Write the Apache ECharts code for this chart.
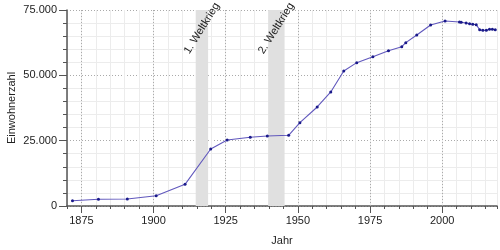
<!DOCTYPE html>
<html>
<head>
<meta charset="utf-8">
<script src="https://cdn.jsdelivr.net/npm/echarts@6/dist/echarts.min.js"></script>
<style>html,body{margin:0;padding:0;background:#fff}#c{width:500px;height:250px}</style>
</head>
<body>
<div id="c"></div>
<script>
// Census dates (decimal years) and population
const years = [1871.9, 1880.9, 1890.9, 1900.9, 1910.9, 1919.8, 1925.5, 1933.5, 1939.4, 1946.8,
  1950.7, 1956.7, 1961.4, 1965.9, 1970.4, 1976.0, 1981.4, 1986.0, 1987.4, 1991.2, 1996.0,
  2001.0, 2006.0, 2006.6, 2008.3, 2009.5, 2010.6, 2011.8, 2013.0, 2014.1, 2015.3, 2016.4, 2017.4, 2018.4];
const population = [2000, 2560, 2680, 3940, 8300, 21800, 25260, 26290, 26800, 27050,
  31900, 37890, 43630, 51660, 54850, 57140, 59440, 60970, 62500, 65440, 69270,
  70790, 70400, 70300, 70030, 69760, 69530, 69380, 67460, 67230, 67230, 67610, 67610, 67460];
const majorYears = [1875, 1900, 1925, 1950, 1975, 2000];
const wars = [
  { name: '1. Weltkrieg', from: 1914.6, to: 1918.9 },
  { name: '2. Weltkrieg', from: 1939.7, to: 1945.4 }
];
const xMin = 1870, xMax = 2019;
const yMin = 0, yMax = 75000;

const font = "'Liberation Sans', Arial, sans-serif";
const chart = echarts.init(document.getElementById('c'));
const fmt = v => String(v).replace(/\B(?=(\d{3})+(?!\d))/g, '.');

chart.setOption({
  animation: false,
  textStyle: { fontFamily: font },
  grid: { left: 67, right: 3, top: 10, bottom: 44, containLabel: false, outerBoundsMode: 'none' },
  xAxis: [{
    type: 'value', min: xMin, max: xMax, interval: 5,
    axisLine: { show: true, lineStyle: { color: '#555', width: 1.5 } },
    axisTick: { show: true, length: 3, lineStyle: { color: '#555' } },
    axisLabel: { show: true, color: '#222', fontSize: 11, fontFamily: font, margin: 9,
      formatter: v => (Math.abs(v % 25) < 1e-6 ? String(v) : '') },
    splitLine: { show: true, lineStyle: { color: '#ececec', width: 1 } },
    name: 'Jahr', nameLocation: 'middle', nameGap: 29, nameMoveOverlap: false,
    nameTextStyle: { color: '#222', fontSize: 11, fontFamily: font }
  }, {
    type: 'value', min: xMin, max: xMax, position: 'bottom',
    axisLine: { show: false },
    axisTick: { show: true, length: 7, customValues: majorYears, lineStyle: { color: '#555' } },
    axisLabel: { show: false },
    splitLine: { show: false }
  }],
  yAxis: {
    type: 'value', min: yMin, max: yMax, interval: 25000,
    axisLine: { show: true, lineStyle: { color: '#555', width: 1.5 } },
    axisTick: { show: true, length: 8, lineStyle: { color: '#555' } },
    minorTick: { show: true, splitNumber: 5, length: 4, lineStyle: { color: '#555' } },
    axisLabel: { color: '#222', fontSize: 11, fontFamily: font, margin: 10, formatter: fmt },
    splitLine: { show: true, lineStyle: { color: '#aaa', type: [1, 2], width: 1 } },
    minorSplitLine: { show: true, lineStyle: { color: '#ececec', width: 1 } },
    name: 'Einwohnerzahl', nameLocation: 'middle', nameGap: 50, nameMoveOverlap: false,
    nameTextStyle: { color: '#222', fontSize: 11, fontFamily: font }
  },
  series: [{
    type: 'line',
    xAxisIndex: 0,
    data: years.map((y, i) => [y, population[i]]),
    symbol: 'circle', symbolSize: 3,
    itemStyle: { color: '#1a1a8a' },
    lineStyle: { color: '#6158bd', width: 1.1 },
    z: 5,
    markArea: {
      silent: true,
      itemStyle: { color: '#e0e0e0' },
      label: { show: false },
      data: wars.map(w => [{ xAxis: w.from, yAxis: yMin }, { xAxis: w.to, yAxis: yMax }])
    },
    markLine: {
      silent: true, symbol: 'none',
      lineStyle: { color: '#aaa', type: [1, 2], width: 1 },
      label: { show: false },
      data: majorYears.map(y => ({ xAxis: y }))
    },
    markPoint: {
      silent: true, symbol: 'circle', symbolSize: 0,
      itemStyle: { color: 'rgba(0,0,0,0)' },
      label: { show: true, position: 'inside', color: '#222', fontSize: 11, fontFamily: font,
        rotate: 58, align: 'center', verticalAlign: 'middle',
        formatter: p => p.name },
      data: wars.map(w => ({ name: w.name, coord: [(w.from + w.to) / 2, 68000] }))
    }
  }]
});
</script>
</body>
</html>
